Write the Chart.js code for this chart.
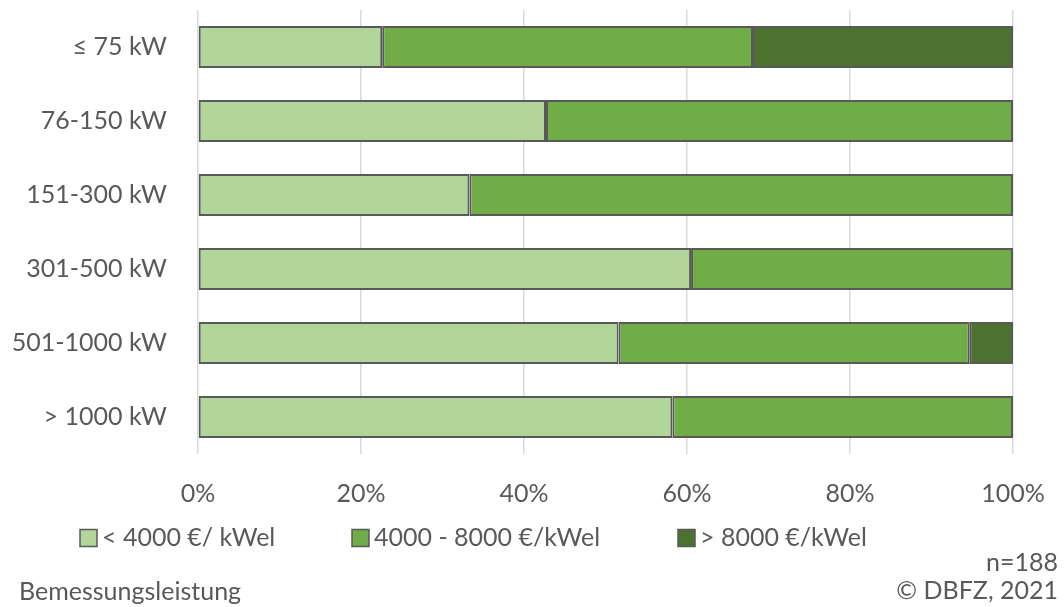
<!DOCTYPE html>
<html>
<head>
<meta charset="utf-8">
<script src="https://cdn.jsdelivr.net/npm/chart.js@4"></script>
<style>
  html, body { margin: 0; padding: 0; background: #fff; }
  #wrap { width: 1064px; height: 607px; position: relative; }
</style>
</head>
<body>
<div id="wrap"><canvas id="chart" width="1064" height="607"></canvas></div>
<script>
// Investitionskosten nach Bemessungsleistung (Anteile in %)
const categories = ['≤ 75 kW', '76-150 kW', '151-300 kW', '301-500 kW', '501-1000 kW', '> 1000 kW'];
const seriesLabels = ['< 4000 €/ kWel', '4000 - 8000 €/kWel', '> 8000 €/kWel'];
const lowCost = [22.6, 42.7, 33.3, 60.5, 51.6, 58.2];
const midCost = [45.5, 57.3, 66.7, 39.5, 43.1, 41.8];
const highCost = [31.9, 0, 0, 0, 5.3, 0];
const xTicks = [0, 20, 40, 60, 80, 100];
const seriesColors = ['#b2d59a', '#70ad47', '#4c7230'];

const FONT = 'Lato, "Open Sans", sans-serif';
const TEXT = '#595959';

// legend row + axis title + source notes below the plot
const footerPlugin = {
  id: 'footer',
  afterDraw(chart) {
    const ctx = chart.ctx;
    ctx.save();
    ctx.font = '25px ' + FONT;
    ctx.fillStyle = TEXT;
    ctx.textBaseline = 'middle';

    // legend items start at fixed columns
    const box = 17, legendY = 538;
    const itemX = [80, 352, 678];
    chart.data.datasets.forEach((d, i) => {
      const x = itemX[i];
      ctx.fillStyle = d.backgroundColor;
      ctx.fillRect(x, legendY - box / 2, box, box);
      ctx.strokeStyle = TEXT;
      ctx.lineWidth = 1.5;
      ctx.strokeRect(x, legendY - box / 2, box, box);
      ctx.fillStyle = TEXT;
      ctx.textAlign = 'left';
      ctx.fillText(d.label, x + box + 5, legendY);
    });

    ctx.textAlign = 'left';
    ctx.fillText('Bemessungsleistung', 19, 592);
    ctx.textAlign = 'right';
    ctx.fillText('n=188', 1058, 563);
    ctx.fillText('© DBFZ, 2021', 1058, 591);
    ctx.restore();
  }
};

new Chart(document.getElementById('chart'), {
  type: 'bar',
  data: {
    labels: categories,
    datasets: [
      { label: seriesLabels[0], data: lowCost, backgroundColor: seriesColors[0] },
      { label: seriesLabels[1], data: midCost, backgroundColor: seriesColors[1] },
      { label: seriesLabels[2], data: highCost, backgroundColor: seriesColors[2] }
    ].map(d => Object.assign(d, {
      borderColor: '#595959',
      borderWidth: 2,
      borderSkipped: false,
      barPercentage: 0.567,
      categoryPercentage: 1
    }))
  },
  options: {
    indexAxis: 'y',
    responsive: false,
    animation: false,
    layout: { padding: { top: 10, left: 0, right: 51, bottom: 0 } },
    plugins: {
      legend: { display: false },
      tooltip: { enabled: false }
    },
    scales: {
      x: {
        stacked: true,
        min: 0,
        max: 100,
        afterBuildTicks: axis => { axis.ticks = xTicks.map(v => ({ value: v })); },
        afterFit: axis => {
          axis.height = 153;
          axis.paddingLeft = 0;
          axis.paddingRight = 0;
        },
        grid: { color: '#d9d9d9', lineWidth: 1.5, drawTicks: false },
        border: { display: false },
        ticks: {
          color: TEXT,
          font: { family: FONT, size: 25 },
          padding: 25,
          callback: v => v + '%'
        }
      },
      y: {
        stacked: true,
        afterFit: axis => {
          axis.width = 198;
          axis.paddingTop = 0;
          axis.paddingBottom = 0;
        },
        grid: { display: false, drawTicks: false },
        border: { display: false },
        ticks: {
          color: TEXT,
          font: { family: FONT, size: 25 },
          padding: 31
        }
      }
    }
  },
  plugins: [footerPlugin]
});
</script>
</body>
</html>
